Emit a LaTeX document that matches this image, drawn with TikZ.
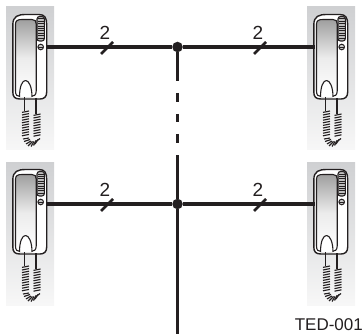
\documentclass[tikz,border=0pt]{standalone}
\usepackage{fontspec}
\setmainfont{Liberation Sans}
\definecolor{ink}{HTML}{231F20}
\definecolor{panelgray}{HTML}{CFD0D2}
\newcommand{\handsetpath}{(9.5,17) .. controls (9.5,13.5) and (12,12.5) .. (16,12.5) -- (26,12.5) .. controls (29,12.5) and (30.2,14) .. (30.2,17) -- (30.2,84) .. controls (30.2,88) and (28,89.5) .. (25,89.5) -- (14,89.5) .. controls (11,89.5) and (9.5,88) .. (9.5,84) -- cycle}
\tikzset{
  x=1pt,y=-1pt,
  wire/.style={draw=ink,line width=3.7pt},
  slashmark/.style={draw=ink,line width=2.6pt},
  junction/.style={circle,fill=ink,inner sep=0pt,minimum size=10.5pt},
  lbl/.style={text=ink,font=\fontsize{19}{19}\selectfont,inner sep=0pt},
  tag/.style={text=ink,font=\fontsize{17}{17}\selectfont,inner sep=0pt,anchor=base east},
  outline/.style={draw=ink,line width=1.1pt,line join=round},
  cord/.style={draw=ink,line width=1.15pt},
  pics/phone/.style={code={
    \shade[top color=panelgray,bottom color=gray!6,middle color=panelgray!60] (0,0) rectangle (48,143);
    % body
    \path[outline,fill=white,line width=1.4pt] (6.8,18) .. controls (6.8,9) and (12,7.5) .. (20,7.5) -- (33,7.5) .. controls (39,7.5) and (40.7,11) .. (40.7,18) -- (40.7,85) .. controls (40.7,90) and (38,92) .. (34,92) -- (14,92) .. controls (9,92) and (6.8,90) .. (6.8,85) -- cycle;
    % handset
    \shade[top color=gray!75,bottom color=white,middle color=white!85!gray] \handsetpath;
    \path[outline] \handsetpath;
    % cradle notch
    \path[outline,fill=white] (13.5,90) .. controls (13.5,80) and (16,73.5) .. (19.5,73.5) .. controls (23,73.5) and (26,80) .. (26,90);
    % speaker slots
    \path[draw=ink,fill=gray!50,line width=1.1pt,rounded corners=2.5pt] (31,9.5) rectangle (38.4,34);
    \foreach \yy in {12,14.4,...,32}{\path[draw=ink,line width=1pt] (31.5,\yy) -- (38,\yy);}
    % button
    \path[draw=ink,fill=gray!40,line width=1pt] (34.7,40) circle (2.8);
    \path[draw=ink,line width=.7pt] (32,40) -- (37.4,40);
    % cords
    \path[cord,line width=1.3pt] (18.5,90) -- (18.5,104);
    \path[cord,line width=1.3pt] (30,91) -- (30,107);
    \foreach \yy in {104,106.6,...,130}{\path[cord] (16,\yy+1.4) -- (23,\yy);}
    \foreach \yy in {107,109.6,...,130}{\path[cord] (27.5,\yy+1.4) -- (34.5,\yy);}
    \path[cord] (17,132) -- (23,131); \path[cord] (18,134.5) -- (24,132.5);
    \path[cord] (20,137) -- (25,134); \path[cord] (22,139) -- (26.5,134.5);
    \path[cord] (25,139.5) -- (28,134.5); \path[cord] (27.5,138.5) -- (30,133.5);
    \path[cord] (29,137) -- (32,132.5); \path[cord] (30,134.5) -- (34,131.5);
  }}
}
\begin{document}
\begin{tikzpicture}
\useasboundingbox (0,0) rectangle (364,334);
\pic at (6,7) {phone};
\pic at (307,7) {phone};
\pic at (6,162) {phone};
\pic at (307,162) {phone};
\coordinate (pa) at (46,47);
\coordinate (pb) at (315,47);
\coordinate (pc) at (46,204);
\coordinate (pd) at (315,204);
\node[junction] (j1) at (177.5,47) {};
\node[junction] (j2) at (177.5,204) {};
\coordinate (d1) at (177.5,81);
\coordinate (d2) at (177.5,155);
\coordinate (endb) at (177.5,334);
\draw[wire] (pa) -- (j1) -- (pb);
\draw[wire] (pc) -- (j2) -- (pd);
\draw[wire] (j1) -- (d1);
\draw[wire] (d2) -- (j2) -- (endb);
\foreach \a/\b in {93/102,114/122,134/143}{\draw[wire] (177.5,\a) -- (177.5,\b);}
\foreach \xx/\yy in {107/48,260/48,107/205,260/205}{
  \draw[slashmark] (\xx-6,\yy+6) -- (\xx+6,\yy-6);
  \node[lbl] at (\xx-2,\yy-15) {2};
}
\node[tag] (ted) at (363,330) {TED-001};
\end{tikzpicture}
\end{document}
